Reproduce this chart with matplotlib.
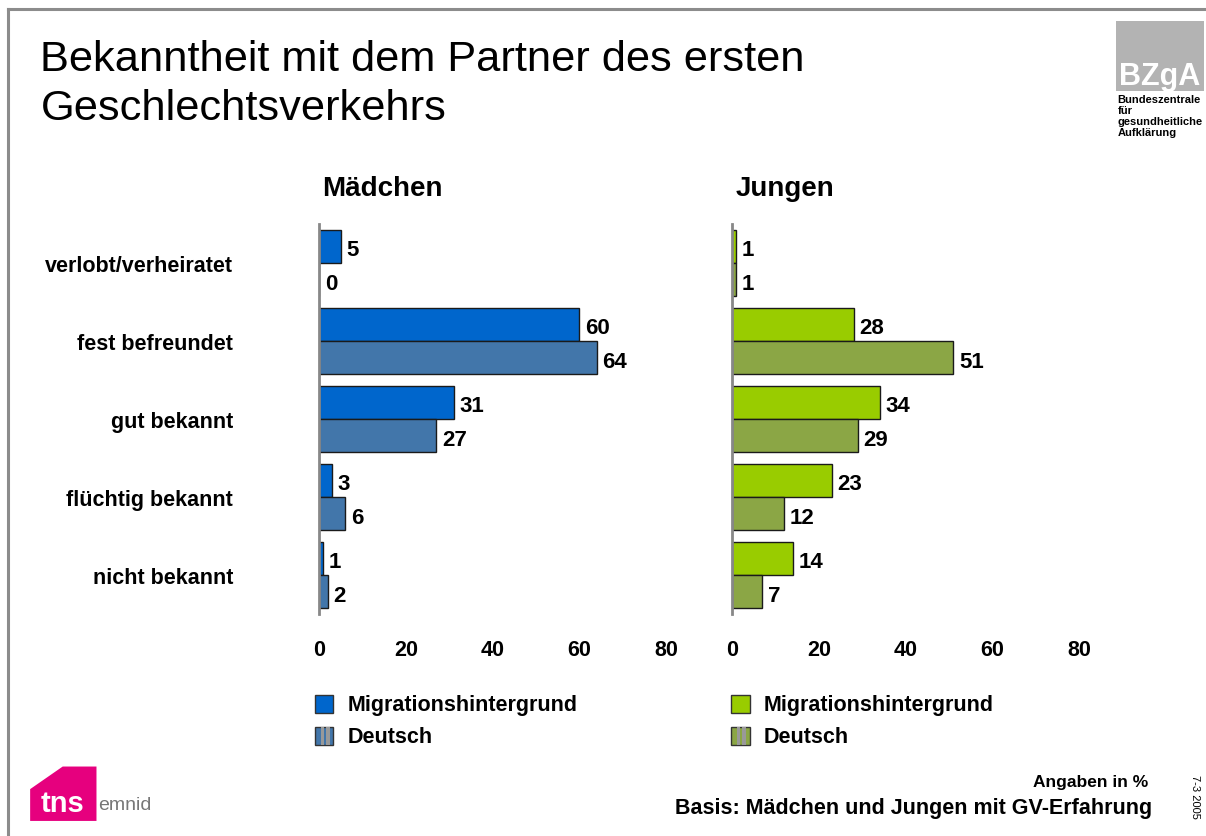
import numpy as np
import matplotlib
matplotlib.use('Agg')
import matplotlib.pyplot as plt
from matplotlib.patches import Rectangle, Polygon
from matplotlib.lines import Line2D

plt.rcParams['font.family'] = ['Liberation Sans', 'DejaVu Sans']

# Daten
kategorien = ['verlobt/verheiratet', 'fest befreundet', 'gut bekannt', 'flüchtig bekannt', 'nicht bekannt']
maedchen_mig = [5, 60, 31, 3, 1]
maedchen_dt = [0, 64, 27, 6, 2]
jungen_mig = [1, 28, 34, 23, 14]
jungen_dt = [1, 51, 29, 12, 7]
xticks = [0, 20, 40, 60, 80]
legende = ['Migrationshintergrund', 'Deutsch']

farben = {
    'Mädchen': ('#0066CC', '#4276AA'),
    'Jungen': ('#99CC00', '#8BA645'),
}

fig = plt.figure(figsize=(12.06, 8.37), dpi=100, facecolor='white')

# Rahmenlinien oben und links
fig.lines.append(Line2D([0.0066, 1], [0.988, 0.988], transform=fig.transFigure,
                        color='#8c8c8c', linewidth=2.2))
fig.lines.append(Line2D([0.0066, 0.0066], [0, 0.988], transform=fig.transFigure,
                        color='#8c8c8c', linewidth=2.2))

fig.text(0.0335, 0.952, 'Bekanntheit mit dem Partner des ersten\nGeschlechtsverkehrs',
         fontsize=31.2, va='top', ha='left', linespacing=1.3)

pos = np.arange(len(kategorien))
h = 0.42


def panel(left, titel, mig, dt, c1, c2, labels=False):
    ax = fig.add_axes([left, 0.265, 0.288, 0.466])
    ax.barh(pos - h / 2, mig, height=h, color=c1, edgecolor='#1a1a1a', linewidth=1)
    ax.barh(pos + h / 2, dt, height=h, color=c2, edgecolor='#1a1a1a', linewidth=1)
    for y, v in zip(pos - h / 2, mig):
        ax.text(v + 1.3, y + 0.03, str(v), va='center', ha='left', fontsize=16, fontweight='bold')
    for y, v in zip(pos + h / 2, dt):
        ax.text(v + 1.3, y + 0.05, str(v), va='center', ha='left', fontsize=16, fontweight='bold')
    ax.set_xlim(0, 80)
    ax.set_ylim(4.5, -0.5)
    ax.set_xticks(xticks)
    ax.set_xticklabels([str(t) for t in xticks], fontsize=15.5, fontweight='bold')
    ax.tick_params(axis='x', length=0, pad=18)
    ax.set_yticks(pos)
    if labels:
        ax.set_yticklabels(kategorien, fontsize=15.5, fontweight='bold')
        ax.tick_params(axis='y', length=0, pad=62)
    else:
        ax.set_yticklabels([])
        ax.tick_params(axis='y', length=0)
    for s in ['top', 'right', 'bottom']:
        ax.spines[s].set_visible(False)
    ax.spines['left'].set_color('#888888')
    ax.spines['left'].set_linewidth(2)
    ax.set_title(titel, fontsize=20, fontweight='bold', loc='left', pad=21, x=0.01)
    return ax


ax1 = panel(0.2645, 'Mädchen', maedchen_mig, maedchen_dt, *farben['Mädchen'], labels=True)
ax2 = panel(0.607, 'Jungen', jungen_mig, jungen_dt, *farben['Jungen'])

# Legenden
for x0, key in [(0.2615, 'Mädchen'), (0.6065, 'Jungen')]:
    c1, c2 = farben[key]
    for i, (txt, c) in enumerate(zip(legende, [c1, c2])):
        y0 = 0.1465 - i * 0.038
        r = Rectangle((x0, y0), 0.015, 0.0215, transform=fig.transFigure,
                      facecolor=c, edgecolor='#333333', linewidth=1)
        fig.patches.append(r)
        if i == 1:
            for k in [0.3, 0.6]:
                fig.patches.append(Rectangle((x0 + 0.015 * k, y0), 0.003, 0.0215,
                                             transform=fig.transFigure, facecolor='#999999',
                                             edgecolor='none'))
        fig.text(x0 + 0.027, y0 + 0.0105, txt, fontsize=15.5, fontweight='bold', va='center')

# Fußzeile
fig.text(0.952, 0.065, 'Angaben in %', fontsize=12.5, fontweight='bold', ha='right', va='center')
fig.text(0.955, 0.034, 'Basis: Mädchen und Jungen mit GV-Erfahrung', fontsize=15.5,
         fontweight='bold', ha='right', va='center')
fig.text(0.991, 0.048, '7-3 2005', fontsize=8, rotation=270, ha='center', va='center')

# BZgA Logo
fig.patches.append(Rectangle((0.925, 0.890), 0.073, 0.084, transform=fig.transFigure,
                             facecolor='#b3b3b3', edgecolor='none'))
fig.text(0.9615, 0.908, 'BZgA', fontsize=22, fontweight='bold', color='white',
         ha='center', va='center')
fig.text(0.9265, 0.886, 'Bundeszentrale\nfür\ngesundheitliche\nAufklärung', fontsize=8,
         fontweight='bold', ha='left', va='top', linespacing=1.1)

# tns emnid Logo
fig.patches.append(Polygon([[0.025, 0.018], [0.025, 0.056], [0.052, 0.083], [0.080, 0.083],
                            [0.080, 0.018]], closed=True, transform=fig.transFigure,
                           facecolor='#E6007E', edgecolor='none'))
fig.text(0.034, 0.040, 'tns', fontsize=21, fontweight='bold', color='white', va='center')
fig.text(0.0815, 0.038, 'emnid', fontsize=14, color='#777777', va='center')

plt.savefig('out.png', dpi=100)
